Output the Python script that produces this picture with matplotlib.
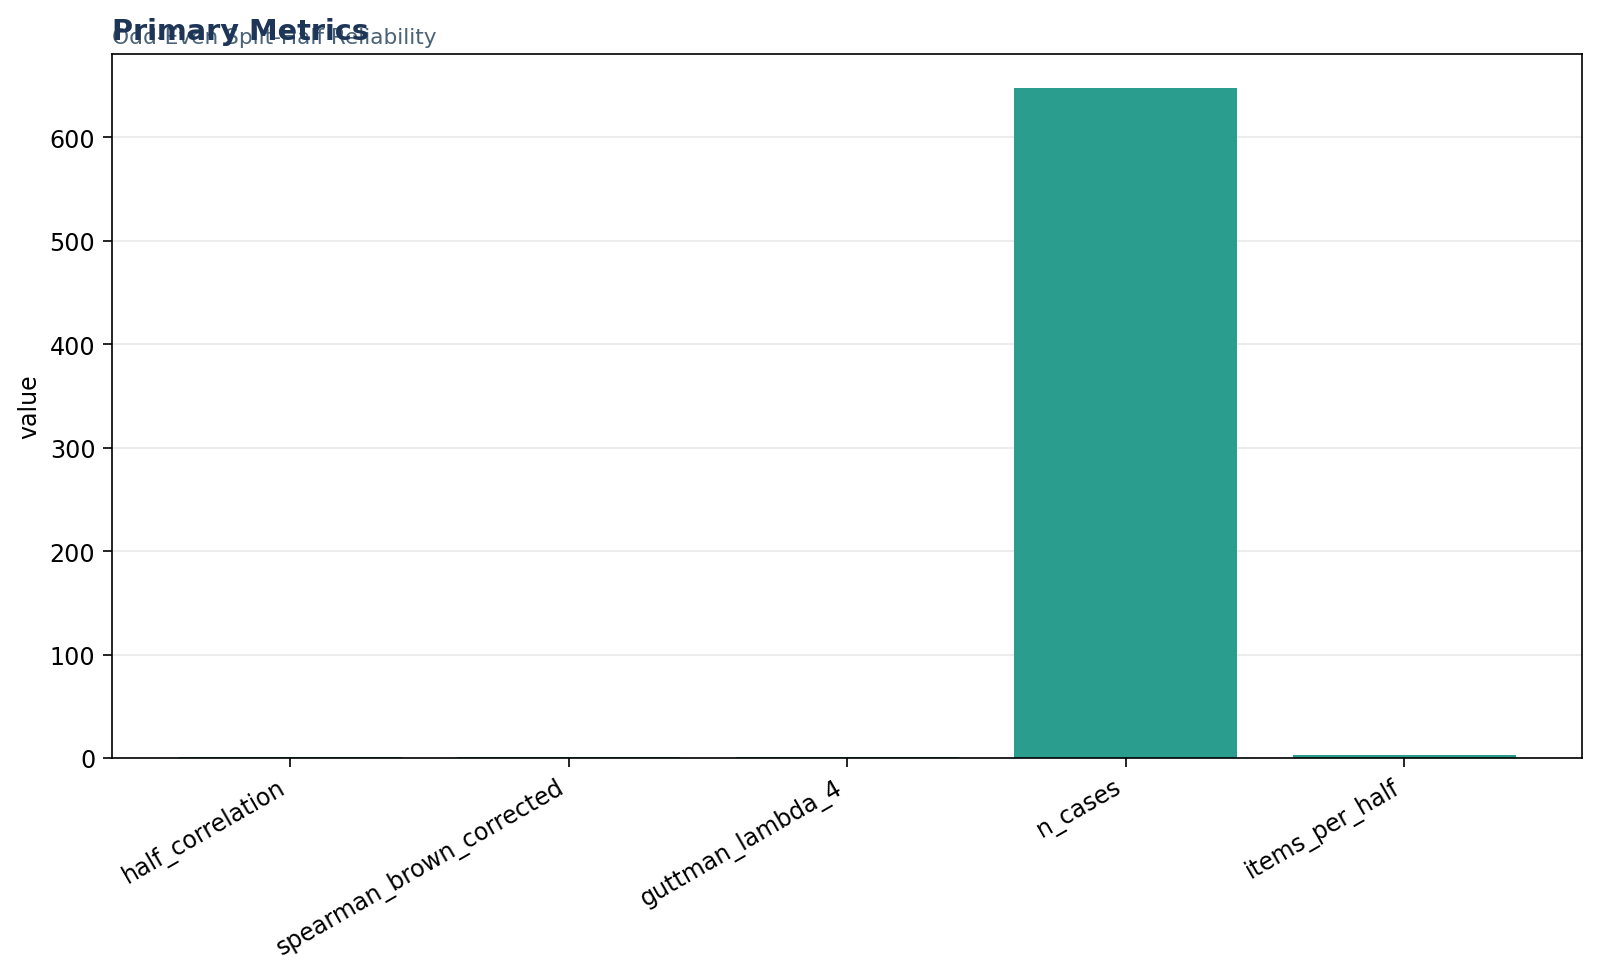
import matplotlib
matplotlib.use("Agg")
import matplotlib.pyplot as plt

categories = ["half_correlation", "spearman_brown_corrected", "guttman_lambda_4", "n_cases", "items_per_half"]
values = [0.80, 0.89, 0.89, 648, 3]

title = "Primary Metrics"
subtitle = "Odd-Even Split-Half Reliability"

fig = plt.figure(figsize=(1600 / 150, 978 / 150), dpi=150)
ax = fig.add_axes([0.07, 0.224, 0.919, 0.7195])

x = list(range(len(categories)))
ax.bar(x, values, width=0.8, color="#2a9d8f", zorder=2)
ax.set_xticks(x)
ax.set_xticklabels(categories, rotation=30, ha="right", fontsize=11.4)
ax.tick_params(axis="both", labelsize=11.4, length=4.5)
ax.set_ylabel("value", fontsize=11.4)
ax.yaxis.grid(True, color="#ebebeb", linewidth=0.9, zorder=0)
ax.set_axisbelow(True)

ax.text(0, 1.016, subtitle, transform=ax.transAxes, fontsize=10.4, color="#4a6378",
        ha="left", va="baseline")
ax.text(0, 1.021, title, transform=ax.transAxes, fontsize=13.8, fontweight="bold",
        color="#1d3557", ha="left", va="baseline")

fig.savefig("out.png", dpi=150)
